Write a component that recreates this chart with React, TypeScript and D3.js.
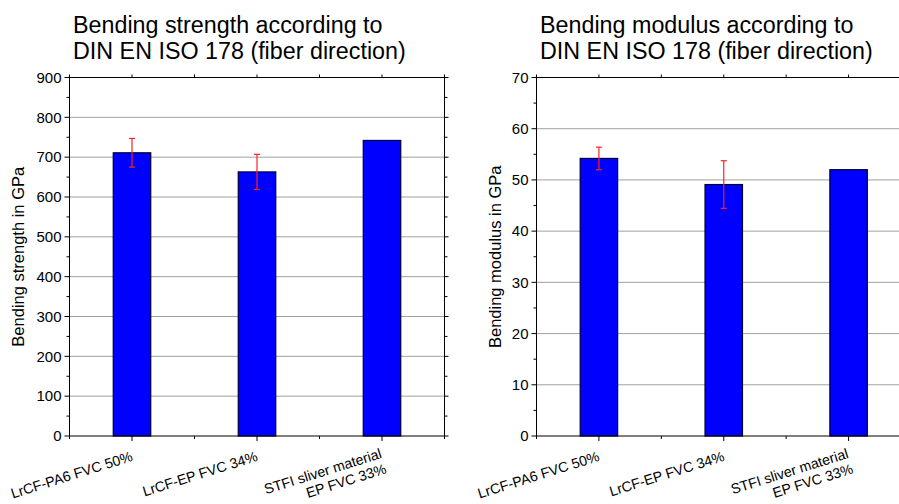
import React from "react";
import * as d3 from "d3";

const categories = ["LrCF-PA6 FVC 50%", "LrCF-EP FVC 34%", "STFI sliver material\nEP FVC 33%"];
const strengthValues = [711, 663, 742];
const strengthErrors: (number | null)[] = [36, 44, null];
const modulusValues = [54.2, 49.1, 52.0];
const modulusErrors: (number | null)[] = [2.2, 4.65, null];
const strengthTicks = [0, 100, 200, 300, 400, 500, 600, 700, 800, 900];
const modulusTicks = [0, 10, 20, 30, 40, 50, 60, 70];

const FONT = "'Liberation Sans', Arial, Helvetica, sans-serif";

type PanelProps = {
  left: number;
  right: number;
  top: number;
  bottom: number;
  titleLines: string[];
  yTitle: string;
  yTitleX: number;
  values: number[];
  errors: (number | null)[];
  ticks: number[];
};

function Panel(p: PanelProps) {
  const x = d3.scaleBand<string>().domain(categories).range([p.left, p.right]).padding(0);
  const maxV = p.ticks[p.ticks.length - 1];
  const y = d3.scaleLinear().domain([0, maxV]).range([p.bottom, p.top]);
  const step = p.ticks[1] - p.ticks[0];
  const minors = p.ticks.slice(0, -1).map((t) => t + step / 2);
  const bw = x.bandwidth();
  const barW = bw * 0.3;
  const halfTicks: number[] = [];
  for (let i = 0; i <= categories.length * 2; i++) halfTicks.push(p.left + (i * bw) / 2);
  const ang = 17.5;
  const rad = (ang * Math.PI) / 180;
  const vx = Math.sin(rad), vy = Math.cos(rad);
  const lineH = 16;

  return (
    <g>
      {p.titleLines.map((t, i) => (
        <text key={i} x={p.left + 3.5} y={33 + i * 26} fontSize={23.3} fontFamily={FONT} fill="#000">
          {t}
        </text>
      ))}
      {p.ticks.slice(1, -1).map((t) => (
        <line key={"g" + t} x1={p.left} x2={p.right} y1={y(t)} y2={y(t)} stroke="#a0a0a0" strokeWidth={1} />
      ))}
      {categories.map((c, i) => {
        const cx = (x(c) as number) + bw / 2;
        return (
          <rect
            key={"b" + i}
            x={cx - barW / 2}
            y={y(p.values[i])}
            width={barW}
            height={y(0) - y(p.values[i])}
            fill="#0000ff"
            stroke="#000033"
            strokeWidth={1.2}
          />
        );
      })}
      {categories.map((c, i) => {
        const e = p.errors[i];
        if (e == null) return null;
        const cx = (x(c) as number) + bw / 2;
        const y1 = y(p.values[i] + e);
        const y2 = y(p.values[i] - e);
        return (
          <g key={"e" + i} stroke="#ff2020" strokeWidth={1.2}>
            <line x1={cx} x2={cx} y1={y1} y2={y2} />
            <line x1={cx - 3} x2={cx + 3} y1={y1} y2={y1} />
            <line x1={cx - 3} x2={cx + 3} y1={y2} y2={y2} />
          </g>
        );
      })}
      <rect x={p.left} y={p.top} width={p.right - p.left} height={p.bottom - p.top} fill="none" stroke="#000" strokeWidth={1} />
      {p.ticks.map((t) => (
        <g key={"yt" + t}>
          <line x1={p.left - 5} x2={p.left} y1={y(t)} y2={y(t)} stroke="#000" />
          <line x1={p.right} x2={p.right + 4} y1={y(t)} y2={y(t)} stroke="#000" />
          <text x={p.left - 8} y={y(t) + 5.3} textAnchor="end" fontSize={15} fontFamily={FONT} fill="#000">
            {t}
          </text>
        </g>
      ))}
      {minors.map((t) => (
        <g key={"ym" + t}>
          <line x1={p.left - 3} x2={p.left} y1={y(t)} y2={y(t)} stroke="#000" />
          <line x1={p.right} x2={p.right + 3} y1={y(t)} y2={y(t)} stroke="#000" />
        </g>
      ))}
      {halfTicks.map((tx, i) => (
        <g key={"xt" + i}>
          <line x1={tx} x2={tx} y1={p.bottom} y2={p.bottom + (i % 2 === 1 ? 5 : 3)} stroke="#000" />
          <line x1={tx} x2={tx} y1={p.top} y2={p.top - 3} stroke="#000" />
        </g>
      ))}
      {categories.map((c, i) => {
        const cx = (x(c) as number) + bw / 2;
        const lines = c.split("\n");
        const shift = -(lines.length - 1) * 3;
        return lines.map((ln, j) => {
          const ax = cx + 1.5 + vx * (j * lineH + shift);
          const ay = p.bottom + 24.5 + vy * (j * lineH + shift);
          return (
            <text
              key={"cl" + i + "_" + j}
              x={ax}
              y={ay}
              transform={`rotate(${-ang},${ax},${ay})`}
              textAnchor="end"
              fontSize={14.2}
              fontFamily={FONT}
              fill="#000"
            >
              {ln}
            </text>
          );
        });
      })}
      <text
        x={p.yTitleX}
        y={(p.top + p.bottom) / 2}
        transform={`rotate(-90,${p.yTitleX},${(p.top + p.bottom) / 2})`}
        textAnchor="middle"
        fontSize={16.5}
        fontFamily={FONT}
        fill="#000"
      >
        {p.yTitle}
      </text>
    </g>
  );
}

export default function App() {
  return (
    <svg
      width={899}
      height={504}
      style={{ position: "absolute", left: 0, top: 0, background: "#fff" }}
    >
      <rect x={0} y={0} width={899} height={504} fill="#fff" />
      <Panel
        left={69.5}
        right={444.5}
        top={77.5}
        bottom={436}
        titleLines={["Bending strength according to", "DIN EN ISO 178 (fiber direction)"]}
        yTitle="Bending strength in GPa"
        yTitleX={24}
        values={strengthValues}
        errors={strengthErrors}
        ticks={strengthTicks}
      />
      <Panel
        left={536.5}
        right={911}
        top={77.5}
        bottom={436}
        titleLines={["Bending modulus according to", "DIN EN ISO 178 (fiber direction)"]}
        yTitle="Bending modulus in GPa"
        yTitleX={501}
        values={modulusValues}
        errors={modulusErrors}
        ticks={modulusTicks}
      />
    </svg>
  );
}
